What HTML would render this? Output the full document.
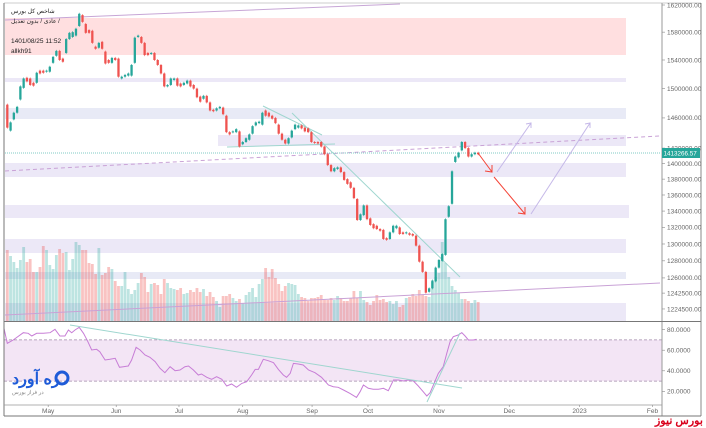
<!DOCTYPE html>
<html><head><meta charset="utf-8">
<style>
html,body{margin:0;padding:0;background:#fff;width:706px;height:428px;overflow:hidden}
svg{display:block;font-family:"Liberation Sans","Noto Sans CJK SC",sans-serif}
</style></head><body>
<svg id="c" width="706" height="428" viewBox="0 0 706 428" xmlns="http://www.w3.org/2000/svg">
<rect x="0" y="0" width="706" height="428" fill="#fff"/>
<g id="zones">
<rect x="5" y="18" width="621" height="37" fill="#ffdfe0"/>
<rect x="5" y="78" width="621" height="4" fill="#ece8f7"/>
<rect x="5" y="108" width="621" height="11" fill="#e8eaf6"/>
<rect x="218" y="135" width="408" height="11" fill="#ece8f7"/>
<rect x="5" y="163" width="621" height="14" fill="#ece8f7"/>
<rect x="5" y="205" width="624" height="13" fill="#ece8f7"/>
<rect x="5" y="239" width="621" height="14" fill="#ece8f7"/>
<rect x="5" y="272" width="621" height="7" fill="#e8eaf6"/>
<rect x="5" y="303" width="621" height="18" fill="#ece8f7"/>
</g>
<g id="vol"></g>
<g id="rsiBg"></g>
<g id="lines">
<line x1="5" y1="20" x2="400" y2="4" stroke="#c7a6d6" stroke-width="1"/>
<line x1="5" y1="315" x2="660" y2="283" stroke="#c9a2d6" stroke-width="1"/>
<line x1="5" y1="171" x2="660" y2="136" stroke="#c9a2d6" stroke-width="1" stroke-dasharray="4,3"/>
<line x1="263" y1="106" x2="322" y2="135" stroke="#9fd6cf" stroke-width="1"/>
<line x1="292" y1="113" x2="460" y2="277" stroke="#9fd6cf" stroke-width="1"/>
<line x1="227" y1="147" x2="335" y2="144" stroke="#9fd6cf" stroke-width="1"/>
<line x1="5" y1="153" x2="661" y2="153" stroke="#80cbc4" stroke-width="1" stroke-dasharray="1,1"/>
</g>
<g id="candles"></g>
<g id="arrows">
<line x1="478" y1="153" x2="492" y2="172" stroke="#f44336" stroke-width="1"/>
<polyline points="485,171 492,172 492,165" fill="none" stroke="#f44336" stroke-width="1"/>
<line x1="494" y1="177" x2="525" y2="214" stroke="#f44336" stroke-width="1"/>
<polyline points="518,213 525,214 525,207" fill="none" stroke="#f44336" stroke-width="1"/>
<line x1="497" y1="172" x2="531" y2="123" stroke="#c5b8e8" stroke-width="1"/>
<polyline points="526,124 531,123 531,128" fill="none" stroke="#c5b8e8" stroke-width="1"/>
<line x1="531" y1="214" x2="590" y2="123" stroke="#c5b8e8" stroke-width="1"/>
<polyline points="585,124 590,123 590,128" fill="none" stroke="#c5b8e8" stroke-width="1"/>
</g>
<g id="rsi"></g>
<g>
<line x1="70" y1="325" x2="462" y2="388" stroke="#9fd6cf" stroke-width="1"/>
<line x1="427" y1="402" x2="460" y2="333" stroke="#9fd6cf" stroke-width="1"/>
</g>
<g id="frame">
<line x1="4" y1="3" x2="4" y2="416" stroke="#777" stroke-width="1"/>
<line x1="4" y1="3" x2="701" y2="3" stroke="#999" stroke-width="0.6"/>
<line x1="662" y1="3" x2="662" y2="416" stroke="#999" stroke-width="1"/>
<line x1="701" y1="3" x2="701" y2="416" stroke="#888" stroke-width="1"/>
<line x1="4" y1="321.5" x2="701" y2="321.5" stroke="#777" stroke-width="1"/>
<line x1="4" y1="405" x2="662" y2="405" stroke="#999" stroke-width="0.8"/>
<line x1="4" y1="416" x2="701" y2="416" stroke="#777" stroke-width="1"/>
</g>
<g id="yaxis"></g>
<g id="xaxis"></g>
<g>
<rect x="662" y="148" width="38" height="10" fill="#26a69a"/>
<text x="663.5" y="155.5" font-size="6.3" fill="#fff">1413266.57</text>
</g>
<g font-size="6" fill="#222">
<text x="11" y="13">شاخص کل بورس</text>
<text x="11" y="23">‎عادی / بدون تعدیل /</text>
<text x="11" y="43" font-size="6.5">1401/08/25 11:52</text>
<text x="11" y="53" font-size="6.5">allkh91</text>
</g>
<g>
<text x="12" y="384" font-size="16" font-weight="bold" fill="#1e5bd8">ره آورد</text>
<circle cx="62" cy="378" r="6" fill="none" stroke="#1e5bd8" stroke-width="3"/>
<text x="12" y="394" font-size="5.5" fill="#888">در فراز بورس</text>
</g>
<text x="655" y="424" font-size="11" font-weight="bold" fill="#d9001b">بورس نیوز</text>
</svg>
<script>
const opens=[1478,1443,1458,1467,1485,1501,1515,1514,1508,1508,1525,1525,1523.5,1523.5,1536,1546,1553,1542,1550,1570,1573,1575,1589,1605,1592,1583,1582,1559,1557.5,1566,1552,1540,1536,1543,1542,1514,1516.5,1518,1518,1536,1573,1573,1564.5,1550,1549,1550,1540,1533,1521,1503,1505,1512,1514,1507,1505,1507,1511,1505,1500,1489,1486,1490,1481,1471,1470,1473,1474,1463,1441,1441,1441,1442,1425,1428,1431,1439,1450,1453,1451,1470,1467,1463,1460,1451,1439,1431,1426,1434,1445,1447,1450,1447,1446,1441,1428,1428,1428,1422,1412,1398,1390,1393,1395,1389,1380,1376,1369,1355,1329,1335,1347,1331,1324,1322,1318,1317,1307,1306,1314,1319,1320,1314,1313,1313,1312,1310,1298,1279,1267,1244,1248,1256,1272,1280,1287,1333,1349,1402,1408,1417,1428,1420,1409,1412,1414];
const closes=[1447,1454,1467,1475,1503,1514,1510,1505,1504,1522,1521,1522,1525,1530.5,1544.5,1553,1540,1537.5,1570,1579,1580,1585,1607,1595,1579,1579,1564.5,1556,1564.5,1556,1535,1536,1543,1540,1516.5,1516.5,1519,1521,1533,1572,1575,1564.5,1547,1547,1550,1540,1533,1521,1503,1505,1514,1514,1504,1503,1508,1511,1503,1500,1488,1482,1490,1481,1470,1469,1473,1475,1465,1441,1438,1442,1445,1422,1428,1433,1438,1449,1454,1455,1467,1463,1462,1459,1453,1439,1431,1426,1433,1443,1451,1450,1446,1442,1441,1428,1427,1426,1422,1412,1398,1390,1394,1395,1389,1379,1374,1369,1356,1329,1336,1347,1330,1323,1319,1318,1316,1306,1305,1314,1322,1322,1312,1312,1314,1311,1310,1298,1279,1267,1243,1248,1257,1272,1281,1288,1330,1346,1390,1409,1414,1428,1420,1409,1412,1414,1412];
const volumes=[71,65,59,53,61,74,59,62,49,49,54,75,71,56,52,66,72,68,69,51,62,79,76,71,71,58,57,47,73,46,48,54,52,40,35,35,49,32,27,31,38,48,44,29,37,38,36,27,42,38,33,32,31,33,27,28,31,29,33,29,32,25,29,24,20,14,25,25,27,23,20,22,18,26,29,33,24,37,42,53,44,52,43,37,30,35,38,37,36,27,24,23,20,23,23,24,26,21,21,23,21,25,23,20,20,23,30,23,30,21,19,16,20,26,21,22,19,20,17,20,14,16,23,24,27,25,31,26,25,24,39,44,48,79,58,44,35,31,28,22,22,20,18,21,19];
const rsiIdx=[-1,0,1.8,4.9,6.4,7.5,9,11,13.1,14.6,16.1,17.6,18.7,19.7,20.7,22,23.3,24.5,25.8,27.3,28.3,29.9,31.4,33,34.3,35.5,37,38,39.4,40.6,42.1,43.6,45.2,46.7,48.2,49.8,51.3,52.8,54.3,55.4,56.9,58.4,59.4,61,62.5,64,65.6,67.1,68.6,70.1,71.7,73.2,74.7,75.8,76.8,78.3,79.8,81.4,82.9,84.4,85.4,86.5,87.5,89,90.5,92.1,94.1,96.1,98.2,99.7,101.2,102.8,104.8,106.8,107.9,108.9,110.4,111.9,113.5,115,116.5,118.1,119.6,121.1,122.6,124.2,125.7,127.2,128.3,129.3,130.3,131.8,133.3,134.4,135.4,136.4,137.9,139,140,141,142.5,143.5];
const rsiVals=[81.2,66.7,69.9,77,76.4,73.8,76.4,76.4,77,80.3,73.8,73.8,79.6,77,79.6,82.2,76.4,69.2,60.2,60.9,58.5,50.5,51.2,52.1,43.4,44,44.7,50.5,62.8,60.2,55.3,53.1,48.9,42.4,38.2,44,40.1,40.8,44,44.7,40.8,35.9,36.9,33.7,31.7,34.3,31.7,25.2,27.2,24,27.8,29.4,35.9,41.4,41.4,51.2,49.8,47.9,41.4,35.9,33.7,37.5,47.2,46.6,45.6,40.8,38.2,33.7,26.2,24.6,24,21.4,18.1,14.2,19.7,26.2,23,22,22,23,20.7,31.1,31.1,30.1,31.1,30.1,25.2,19.7,15.5,18.7,26.2,37.5,44,57,68.3,73.1,74.8,77,73.8,69.9,69.9,70.6];
const priceTicks=[1620000,1580000,1540000,1500000,1460000,1420000,1400000,1380000,1360000,1340000,1320000,1300000,1280000,1260000,1242500,1224500];
const rsiTicks=[80,60,40,20];
const monthLabels=["May","Jun","Jul","Aug","Sep","Oct","Nov","Dec","2023","Feb"];
const monthIdx=[12.5,33.3,52.5,72,93.2,110.3,132,153.5,175,197.3];

const NS="http://www.w3.org/2000/svg";
function xOf(i){return 7.3+i*3.27;}
function yPrice(p){return 5+1086*Math.log(1620/p);}
function yVol(v){return 321-v;}
function yRsi(r){return 412-1.03*r;}
function mk(tag,attrs,parent){const e=document.createElementNS(NS,tag);for(const k in attrs)e.setAttribute(k,attrs[k]);parent.appendChild(e);return e;}
const G="#26a69a",R="#ef5350";
const cg=document.getElementById('candles'),vg=document.getElementById('vol');
for(let i=0;i<opens.length;i++){
  const up=closes[i]>=opens[i];
  const x=xOf(i);
  const yo=yPrice(opens[i]),yc=yPrice(closes[i]);
  const top=Math.min(yo,yc),h=Math.max(1,Math.abs(yo-yc));
  const w=mk('line',{x1:x,x2:x,y1:top-1,y2:top+h+1,stroke:up?G:R,'stroke-width':0.6},cg);
  
  
  const b=mk('rect',{x:x-1.15,y:top,width:2.3,height:h,fill:up?G:R},cg);
  
  
  const vb=mk('rect',{x:x-1.4,y:yVol(volumes[i]),width:2.8,height:volumes[i],fill:up?"rgba(38,166,154,0.3)":"rgba(239,83,80,0.35)"},vg);
  
  
}
const rb=document.getElementById('rsiBg');
const band=mk('rect',{x:4,y:yRsi(70),width:658,height:yRsi(30)-yRsi(70),fill:"#f3e5f5"},rb);


[70,30].forEach(v=>{const l=mk('line',{x1:4,x2:662,y1:yRsi(v),y2:yRsi(v),stroke:"#a08aa8",'stroke-width':0.7,'stroke-dasharray':'3,2'},rb);

});
const rg=document.getElementById('rsi');
let d="";for(let i=0;i<rsiVals.length;i++){d+=(i?"L":"M")+Math.max(4,xOf(rsiIdx[i])).toFixed(1)+","+yRsi(rsiVals[i]).toFixed(1);}
const rl=mk('path',{d:d,fill:"none",stroke:"#c77dd6",'stroke-width':1},rg);


const ya=document.getElementById('yaxis');
priceTicks.forEach(p=>{const y=yPrice(p/1000);
 const t=mk('line',{x1:662,x2:665,y1:y,y2:y,stroke:"#888",'stroke-width':0.6},ya);
 
 
 const tx=mk('text',{x:667,y:y+2.3,'font-size':6.5,fill:"#666"},ya);tx.textContent=p.toFixed(2);
 
 });
rsiTicks.forEach(v=>{const y=yRsi(v);
 const t=mk('line',{x1:662,x2:665,y1:y,y2:y,stroke:"#888",'stroke-width':0.6},ya);
 
 
 const tx=mk('text',{x:667,y:y+2.3,'font-size':6.5,fill:"#666"},ya);tx.textContent=v.toFixed(4);
 
 });
const xa=document.getElementById('xaxis');
monthLabels.forEach((m,i)=>{const x=xOf(monthIdx[i]);
 const t=mk('line',{x1:x,x2:x,y1:405,y2:407,stroke:"#888",'stroke-width':0.6},xa);
 
 
 const tx=mk('text',{x:x,y:413,'font-size':6.5,fill:"#666",'text-anchor':'middle'},xa);tx.textContent=m;
 
 });
</script>
</body></html>
